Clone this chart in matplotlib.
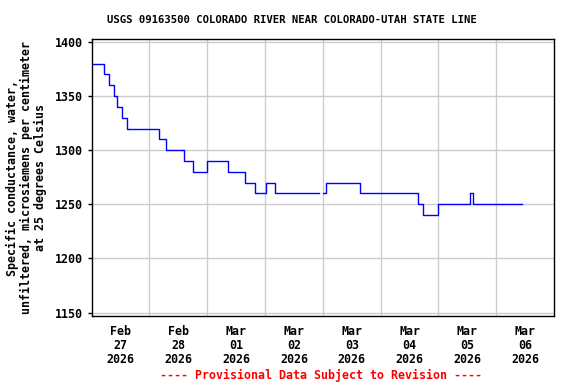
import matplotlib
matplotlib.use('Agg')
import matplotlib.pyplot as plt
import numpy as np
import pandas as pd

# change points: hours after 2026-02-27 00:00 and the value that starts there
hours = [0, 5.25, 7.25, 9.25, 10.75, 12.5, 14.75, 28, 31, 38.5, 42, 48,
         56.75, 63.75, 68, 72.25, 76.25, 94.5, 96, 97.25, 111.25, 135.5,
         137.5, 143.75, 157.25, 158.5, 178.5]
values = [1380, 1370, 1360, 1350, 1340, 1330, 1320, 1310, 1300, 1290, 1280,
          1290, 1280, 1270, 1260, 1270, 1260, np.nan, 1260, 1270, 1260, 1250,
          1240, 1250, 1260, 1250, 1250]

day_labels = ['Feb\n27\n2026', 'Feb\n28\n2026', 'Mar\n01\n2026', 'Mar\n02\n2026',
              'Mar\n03\n2026', 'Mar\n04\n2026', 'Mar\n05\n2026', 'Mar\n06\n2026']
y_ticks = [1150, 1200, 1250, 1300, 1350, 1400]

start = pd.Timestamp('2026-02-27')
times = [start + pd.Timedelta(hours=h) for h in hours]

plt.rcParams['font.family'] = 'DejaVu Sans Mono'
plt.rcParams['font.weight'] = 'bold'

fig = plt.figure(figsize=(5.76, 3.84), dpi=100)
ax = fig.add_axes([0.159, 0.176, 0.803, 0.722])

ax.plot(times, values, color='#0000ff', linewidth=1, drawstyle='steps-post')

ax.set_xlim(start, start + pd.Timedelta(days=8))
ax.set_ylim(1146.5, 1402.5)

# grid at midnight, labels at noon
midnights = [start + pd.Timedelta(days=d) for d in range(1, 8)]
noons = [start + pd.Timedelta(hours=12 + 24 * d) for d in range(8)]
ax.set_xticks(midnights)
ax.set_xticklabels([])
ax.set_xticks(noons, minor=True)
ax.set_xticklabels(day_labels, minor=True, fontsize=8.4, fontweight='bold',
                   linespacing=1.1)
ax.tick_params(axis='x', which='both', length=0, pad=6)
ax.xaxis.grid(True, which='major', color='#cccccc', linewidth=1)

ax.set_yticks(y_ticks)
ax.set_yticklabels([str(v) for v in y_ticks], fontsize=8.4, fontweight='bold')
ax.tick_params(axis='y', length=3, width=1, pad=3)
ax.yaxis.grid(True, color='#cccccc', linewidth=1)
ax.set_axisbelow(True)

for s in ax.spines.values():
    s.set_linewidth(1.0)
    s.set_color('black')

ax.set_ylabel('Specific conductance, water,\nunfiltered, microsiemens per centimeter\nat 25 degrees Celsius',
              fontsize=8.4, fontweight='bold', linespacing=1.1, labelpad=6)

fig.text(0.506, 0.947, 'USGS 09163500 COLORADO RIVER NEAR COLORADO-UTAH STATE LINE',
         ha='center', va='center', fontsize=7.7, fontweight='bold')
fig.text(0.558, 0.023, '---- Provisional Data Subject to Revision ----',
         ha='center', va='center', fontsize=8.4, fontweight='bold', color='red')

fig.savefig('out.png', dpi=100)
